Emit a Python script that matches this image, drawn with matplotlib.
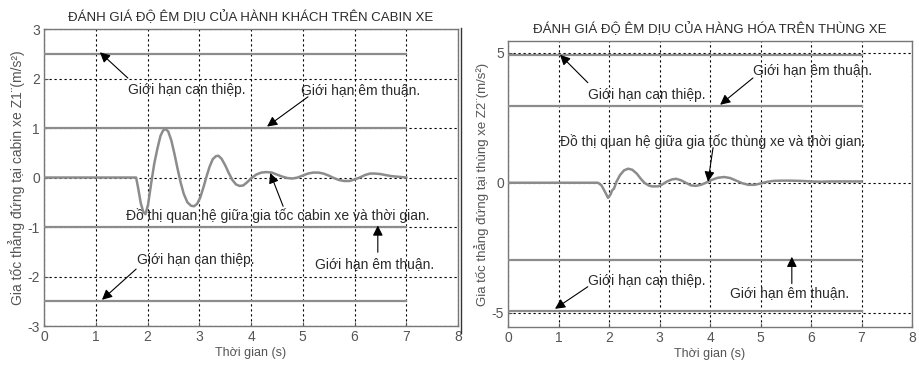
import matplotlib

matplotlib.use("Agg")
import matplotlib.pyplot as plt  # noqa: E402
from matplotlib.lines import Line2D  # noqa: E402

plt.rcParams["font.family"] = ["Liberation Sans", "DejaVu Sans"]
plt.rcParams["axes.unicode_minus"] = False

# cabin acceleration Z1'' (m/s^2) vs time (s)
t_cabin = [0.0, 1.78, 1.82, 1.87, 1.92, 1.96, 2.01, 2.07, 2.13, 2.19, 2.25, 2.30,
           2.35, 2.40, 2.46, 2.52, 2.58, 2.64, 2.70, 2.77, 2.84, 2.90, 2.96, 3.02,
           3.08, 3.14, 3.20, 3.26, 3.32, 3.37, 3.43, 3.50, 3.57, 3.64, 3.71, 3.78,
           3.85, 3.92, 4.00, 4.10, 4.20, 4.30, 4.40, 4.50, 4.60, 4.70, 4.80, 4.90,
           5.00, 5.10, 5.20, 5.30, 5.40, 5.50, 5.60, 5.70, 5.80, 5.90, 6.00, 6.10,
           6.20, 6.30, 6.40, 6.50, 6.60, 6.70, 6.80, 6.90, 7.00]
a_cabin = [0.0, 0.0, -0.22, -0.52, -0.70, -0.74, -0.55, -0.12, 0.28, 0.58, 0.84, 0.95,
           0.98, 0.93, 0.75, 0.48, 0.18, -0.10, -0.33, -0.50, -0.57, -0.58, -0.53, -0.40,
           -0.20, 0.02, 0.22, 0.37, 0.43, 0.44, 0.38, 0.25, 0.09, -0.05, -0.14, -0.17,
           -0.16, -0.10, -0.02, 0.06, 0.10, 0.11, 0.10, 0.06, 0.02, -0.01, -0.02, 0.00,
           0.04, 0.08, 0.10, 0.10, 0.08, 0.04, -0.01, -0.05, -0.07, -0.07, -0.04, 0.00,
           0.05, 0.08, 0.08, 0.07, 0.05, 0.03, 0.02, 0.01, 0.00]

# cargo box acceleration Z2'' (m/s^2) vs time (s)
t_cargo = [0.0, 1.78, 1.85, 1.92, 1.98, 2.03, 2.06, 2.10, 2.15, 2.22, 2.30, 2.38,
           2.46, 2.55, 2.63, 2.70, 2.78, 2.85, 2.97, 3.05, 3.15, 3.25, 3.33, 3.42,
           3.52, 3.62, 3.72, 3.82, 3.92, 4.02, 4.15, 4.28, 4.40, 4.52, 4.64, 4.76,
           4.88, 5.00, 5.12, 5.25, 5.40, 5.60, 5.80, 6.00, 6.20, 6.40, 6.60, 6.80, 7.00]
a_cargo = [0.0, 0.0, -0.10, -0.35, -0.58, -0.45, -0.30, -0.22, 0.05, 0.30, 0.48, 0.54,
           0.50, 0.35, 0.15, 0.00, -0.10, -0.14, -0.14, -0.07, 0.05, 0.13, 0.15, 0.10,
           0.00, -0.10, -0.12, -0.08, 0.00, 0.10, 0.19, 0.22, 0.18, 0.08, -0.02, -0.08,
           -0.08, -0.03, 0.03, 0.07, 0.08, 0.08, 0.07, 0.05, 0.04, 0.05, 0.05, 0.05, 0.05]

limit_span = [0.0, 7.0]
cabin_comfort = 1.0
cabin_intervene = 2.5
cargo_comfort = 2.96
cargo_intervene = 4.93

LABEL_COMFORT = "Giới hạn êm thuận."
LABEL_INTERVENE = "Giới hạn can thiệp."

CURVE = "#8c8c8c"
TXT = "#2a2a2a"
TICK = "#555555"


def style_axes(ax, yticks, ylim, title, ylabel, ylabel_size):
    ax.set_xlim(0, 8)
    ax.set_ylim(*ylim)
    ax.set_xticks(range(0, 9))
    ax.set_yticks(yticks)
    ax.grid(True, color="black", linestyle=(0, (2, 2.5)), linewidth=0.8)
    ax.tick_params(direction="in", length=3, colors=TICK, labelsize=10, pad=3)
    for s in ax.spines.values():
        s.set_color("#777777")
        s.set_linewidth(1.0)
    ax.set_title(title, fontsize=9.5, color=TXT, pad=6)
    ax.set_xlabel("Thời gian (s)", fontsize=9, color=TICK, labelpad=2)
    ax.set_ylabel(ylabel, fontsize=ylabel_size, color=TICK, labelpad=2)


def arrow(ax, head, tail):
    ax.annotate("", xy=head, xytext=tail,
                arrowprops=dict(arrowstyle="-|>", color="black", lw=0.8,
                                mutation_scale=15, shrinkA=0, shrinkB=0))


def label(ax, x, y, s):
    ax.text(x, y, s, fontsize=10, color=TXT, ha="left", va="center")


fig = plt.figure(figsize=(9.19, 3.68), dpi=100)
ax1 = fig.add_axes([0.0479, 0.1141, 0.4505, 0.807])
ax2 = fig.add_axes([0.5528, 0.1114, 0.4396, 0.777])

# left: cabin
for lv in (cabin_intervene, cabin_comfort, -cabin_comfort, -cabin_intervene):
    ax1.plot(limit_span, [lv, lv], color=CURVE, lw=1.6, zorder=3)
ax1.plot(t_cabin, a_cabin, color=CURVE, lw=1.8, zorder=3)
style_axes(ax1, range(-3, 4), (-3, 3),
           "ĐÁNH GIÁ ĐỘ ÊM DỊU CỦA HÀNH KHÁCH TRÊN CABIN XE",
           "Gia tốc thẳng đứng tại cabin xe Z1¨(m/s²)", 10)
label(ax1, 1.62, 1.77, LABEL_INTERVENE)
arrow(ax1, (1.08, 2.53), (1.62, 2.01))
label(ax1, 4.97, 1.77, LABEL_COMFORT)
arrow(ax1, (4.31, 1.03), (5.10, 1.63))
label(ax1, 1.58, -0.76, "Đồ thị quan hệ giữa gia tốc cabin xe và thời gian.")
arrow(ax1, (4.37, 0.09), (4.62, -0.58))
label(ax1, 5.24, -1.75, LABEL_COMFORT)
arrow(ax1, (6.45, -0.97), (6.45, -1.51))
label(ax1, 1.80, -1.67, LABEL_INTERVENE)
arrow(ax1, (1.12, -2.47), (1.78, -1.85))

# right: cargo box
for lv in (cargo_intervene, cargo_comfort, -cargo_comfort, -cargo_intervene):
    ax2.plot(limit_span, [lv, lv], color=CURVE, lw=1.6, zorder=3)
ax2.plot(t_cargo, a_cargo, color=CURVE, lw=1.8, zorder=3)
style_axes(ax2, [-5, 0, 5], (-5.55, 5.45),
           "ĐÁNH GIÁ ĐỘ ÊM DỊU CỦA HÀNG HÓA TRÊN THÙNG XE",
           "Gia tốc thẳng đứng tại thùng xe Z2¨(m/s²)", 9.5)
label(ax2, 1.58, 3.38, LABEL_INTERVENE)
arrow(ax2, (1.03, 4.92), (1.58, 3.85))
label(ax2, 4.85, 4.35, LABEL_COMFORT)
arrow(ax2, (4.20, 3.0), (4.85, 4.03))
label(ax2, 1.03, 1.58, "Đồ thị quan hệ giữa gia tốc thùng xe và thời gian.")
arrow(ax2, (3.96, 0.04), (4.06, 1.35))
label(ax2, 4.40, -4.23, LABEL_COMFORT)
arrow(ax2, (5.62, -2.85), (5.62, -3.88))
label(ax2, 1.58, -3.77, LABEL_INTERVENE)
arrow(ax2, (0.93, -4.85), (1.58, -4.0))

# edge of the left picture
fig.add_artist(Line2D([461 / 919, 461 / 919], [1 - 28 / 368, 1 - 333 / 368],
                      color="#333333", lw=1.0))

fig.savefig("out.png", dpi=100)
